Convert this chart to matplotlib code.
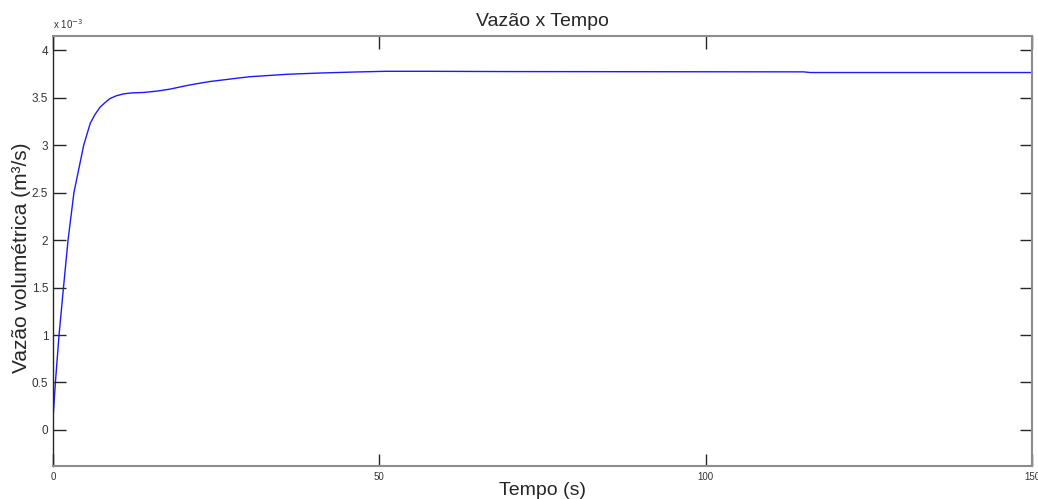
import matplotlib.pyplot as plt
import numpy as np

# Vazao volumetrica ao longo do tempo (valores em 1e-3 m3/s)
tempo = [0, 0.36, 0.92, 1.6, 2.3, 3.2, 3.8, 4.7, 5.7, 6.4, 7.2, 8.0, 8.7, 9.7,
         10.8, 12.0, 13.9, 16.0, 17.9, 21, 24, 30, 36, 41, 46, 51, 57, 70, 85,
         100, 115, 116, 150]
vazao = [0.12, 0.50, 1.0, 1.5, 2.0, 2.5, 2.7, 3.0, 3.23, 3.32, 3.40, 3.45, 3.49,
         3.52, 3.54, 3.55, 3.555, 3.57, 3.59, 3.635, 3.67, 3.72, 3.747, 3.76,
         3.77, 3.778, 3.778, 3.775, 3.774, 3.773, 3.772, 3.765, 3.765]

xticks = [0, 50, 100, 150]
yticks = [0, 0.5, 1, 1.5, 2, 2.5, 3, 3.5, 4]

plt.rcParams['font.family'] = ['Liberation Sans', 'DejaVu Sans']

fig = plt.figure(figsize=(10.38, 4.99), dpi=100)
ax = fig.add_axes([0.0511, 0.0661, 0.9431, 0.8618])

ax.plot(tempo, vazao, color='#1a1aff', linewidth=1.0)

ax.set_xlim(0, 150)
ax.set_ylim(-0.38, 4.15)
ax.set_xticks(xticks)
ax.set_yticks(yticks)
ax.set_xticklabels([str(v) for v in xticks], fontsize=7)
ax.set_yticklabels(['0', '0.5', '1', '1.5', '2', '2.5', '3', '3.5', '4'], fontsize=8.5)
ax.tick_params(direction='in', length=9, width=1, colors='#262626',
               top=True, right=True, labelcolor='#333333')
ax.tick_params(axis='x', pad=4)

for side in ['top', 'right', 'bottom']:
    ax.spines[side].set_color('#8c8c8c')
    ax.spines[side].set_linewidth(1.5)
ax.spines['left'].set_color('#262626')
ax.spines['left'].set_linewidth(1.0)

ax.text(0.0, 1.012, 'x 10$^{-3}$', transform=ax.transAxes, fontsize=7,
        ha='left', va='bottom', color='#333333')

ax.set_title('Vazão x Tempo', fontsize=14, color='#262626', pad=7)
ax.set_xlabel('Tempo (s)', fontsize=14, color='#262626', labelpad=0)
ax.set_ylabel('Vazão volumétrica (m³/s)', fontsize=15, color='#262626')
ax.yaxis.set_label_coords(-0.023, 0.485)

fig.savefig('out.png', dpi=100)
